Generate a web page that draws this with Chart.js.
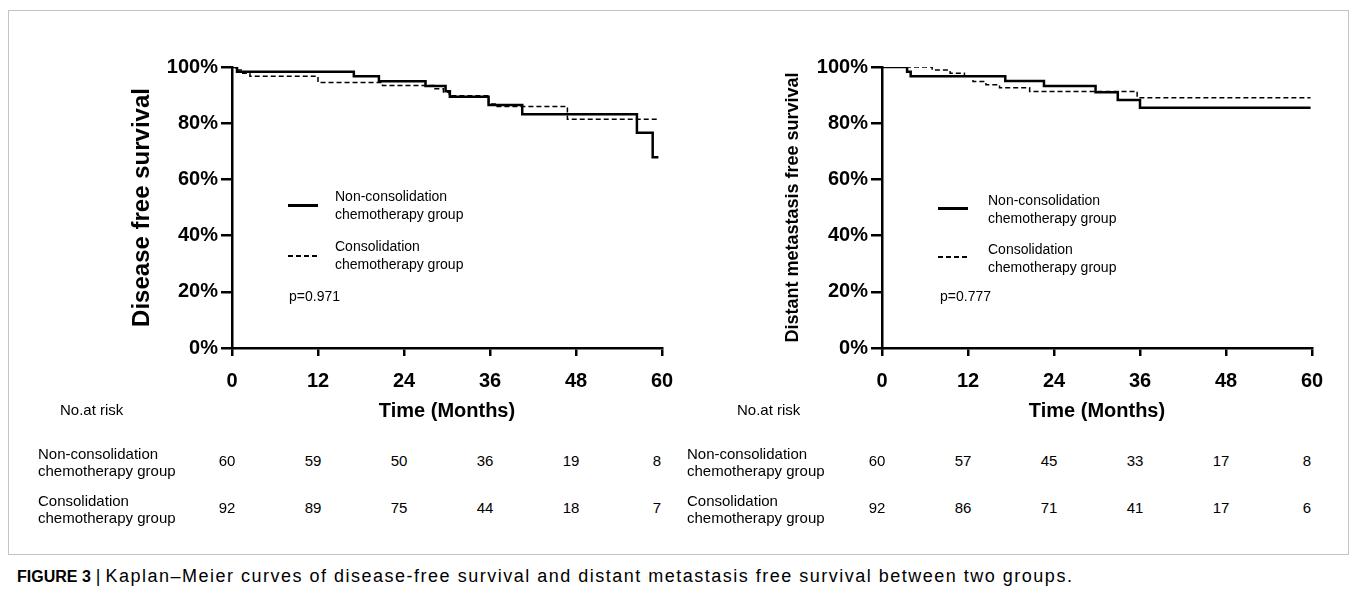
<!DOCTYPE html>
<html>
<head>
<meta charset="utf-8">
<script src="https://cdn.jsdelivr.net/npm/chart.js@4.4.0/dist/chart.umd.min.js"></script>
<style>
  body { margin: 0; background: #fff; width: 1356px; height: 595px; position: relative; overflow: hidden;
         font-family: "Liberation Sans", Arial, sans-serif; color: #000; }
  #frame { position: absolute; left: 8px; top: 10px; width: 1339px; height: 543px; border: 1px solid #c4c4c4; }
  canvas { position: absolute; top: 40px; }
  .txt { position: absolute; font-size: 14px; line-height: 18px; white-space: nowrap; }
  .tb { position: absolute; font-size: 15px; line-height: 17px; white-space: nowrap; }
  .num { position: absolute; font-size: 15px; line-height: 17px; transform: translateX(-50%); }
  .solid { position: absolute; width: 30px; height: 2.5px; background: #000; }
  .dash { position: absolute; width: 30px; height: 1.5px;
          background: repeating-linear-gradient(90deg, #000 0 5px, transparent 5px 8px); }
  #cap { position: absolute; left: 17px; top: 566px; font-size: 18px; line-height: 21px; white-space: nowrap; }
  #cap b { font-size: 16px; }
  #cap span { letter-spacing: 1.5px; }
</style>
</head>
<body>
<div id="frame"></div>

<canvas id="dfsChart" width="590" height="400" style="left:100px"></canvas>
<canvas id="dmfsChart" width="590" height="400" style="left:750px"></canvas>

<!-- legends -->
<div class="solid" style="left:288px;top:204px"></div>
<div class="txt" style="left:335px;top:187px">Non-consolidation<br>chemotherapy group</div>
<div class="dash" style="left:288px;top:255px"></div>
<div class="txt" style="left:335px;top:237px">Consolidation<br>chemotherapy group</div>
<div class="txt" style="left:289px;top:287px">p=0.971</div>

<div class="solid" style="left:938px;top:207px"></div>
<div class="txt" style="left:988px;top:191px">Non-consolidation<br>chemotherapy group</div>
<div class="dash" style="left:938px;top:256px"></div>
<div class="txt" style="left:988px;top:240px">Consolidation<br>chemotherapy group</div>
<div class="txt" style="left:940px;top:287px">p=0.777</div>

<!-- risk tables -->
<div class="tb" style="left:60px;top:401px">No.at risk</div>
<div class="tb" style="left:38px;top:445px">Non-consolidation<br>chemotherapy group</div>
<div class="tb" style="left:38px;top:492px">Consolidation<br>chemotherapy group</div>
<div id="dfsRisk"></div>

<div class="tb" style="left:737px;top:401px">No.at risk</div>
<div class="tb" style="left:687px;top:445px">Non-consolidation<br>chemotherapy group</div>
<div class="tb" style="left:687px;top:492px">Consolidation<br>chemotherapy group</div>
<div id="dmfsRisk"></div>

<div id="cap"><b>FIGURE 3</b> | <span>Kaplan–Meier curves of disease-free survival and distant metastasis free survival between two groups.</span></div>

<script>
// ── Data ──

var MONTH_TICKS = [0, 12, 24, 36, 48, 60];

// Disease free survival (%), step points: time in months, survival after event
var dfsNonT = [0, 0.7, 17, 20.5, 27, 29.8, 30.4, 35.8, 40.5, 56.5, 58.7, 59.5];
var dfsNonS = [100, 98.3, 96.7, 94.9, 93.2, 91.4, 89.4, 86.5, 83.2, 76.6, 67.9, 67.9];
var dfsConT = [0, 0.5, 1.5, 2.5, 12, 21, 28.3, 29.5, 30.3, 35.8, 37, 46.8, 59.5];
var dfsConS = [100, 98.9, 97.8, 96.7, 94.5, 93.4, 92.3, 91.1, 89.8, 86.8, 85.9, 81.4, 81.4];

// Distant metastasis free survival (%)
var dmfsNonT = [0, 3.5, 4.0, 17.2, 22.6, 29.8, 32.9, 36.0, 59.8];
var dmfsNonS = [100, 98.3, 96.7, 95.0, 93.2, 91.0, 88.3, 85.5, 85.5];
var dmfsConT = [0, 7.0, 9.5, 11.5, 12.7, 14.5, 16.4, 20.6, 35.6, 59.8];
var dmfsConS = [100, 98.9, 97.8, 96.7, 94.8, 93.7, 92.6, 91.3, 89.1, 89.1];

// Number at risk at each month tick
var dfsRiskNon = [60, 59, 50, 36, 19, 8];
var dfsRiskCon = [92, 89, 75, 44, 18, 7];
var dmfsRiskNon = [60, 57, 45, 33, 17, 8];
var dmfsRiskCon = [92, 86, 71, 41, 17, 6];

var FONT = "'Liberation Sans', Arial, sans-serif";

function points(ts, ss) {
  return ts.map(function (t, i) { return { x: t, y: ss[i] }; });
}

// ── Chart ──

function kmChart(id, yTitle, titleSize, titlePad, nonT, nonS, conT, conS) {
  var ctx = document.getElementById(id).getContext("2d");
  return new Chart(ctx, {
    type: "line",
    data: {
      datasets: [{
        data: points(nonT, nonS),
        borderColor: "#000",
        borderWidth: 2.5,
        stepped: true,
        pointRadius: 0,
        fill: false,
      }, {
        data: points(conT, conS),
        borderColor: "#000",
        borderWidth: 1.5,
        borderDash: [5, 3],
        stepped: true,
        pointRadius: 0,
        fill: false,
      }],
    },
    options: {
      responsive: false,
      animation: false,
      events: [],
      layout: { padding: { top: 27, right: 28, left: 0, bottom: 0 } },
      plugins: { legend: { display: false }, tooltip: { enabled: false } },
      scales: {
        x: {
          type: "linear",
          min: 0,
          max: 60,
          afterFit: function (s) { s.height = 92; },
          ticks: { stepSize: 12, padding: 13, color: "#000", font: { family: FONT, size: 20, weight: "bold" } },
          grid: { drawOnChartArea: false, color: "#000", lineWidth: 2.5, tickLength: 8 },
          border: { color: "#000", width: 2.5 },
          title: {
            display: true,
            text: "Time (Months)",
            color: "#000",
            padding: { top: 0, bottom: 17 },
            font: { family: FONT, size: 20, weight: "bold" },
          },
        },
        y: {
          min: 0,
          max: 100,
          afterFit: function (s) { s.width = 132; },
          ticks: {
            stepSize: 20,
            padding: 3,
            color: "#000",
            font: { family: FONT, size: 20, weight: "bold" },
            callback: function (v) { return v + "%"; },
          },
          grid: { drawOnChartArea: false, color: "#000", lineWidth: 2.5, tickLength: 11 },
          border: { color: "#000", width: 2.5 },
          title: {
            display: true,
            text: yTitle,
            color: "#000",
            padding: { top: titlePad, bottom: 0 },
            font: { family: FONT, size: titleSize, weight: "bold" },
          },
        },
      },
    },
  });
}

// risk numbers placed under the chart's own month ticks
function riskTable(chart, canvasLeft, holderId, rows, tops) {
  var holder = document.getElementById(holderId);
  rows.forEach(function (row, r) {
    row.forEach(function (n, i) {
      var d = document.createElement("div");
      d.className = "num";
      d.textContent = n;
      d.style.left = (canvasLeft + chart.scales.x.getPixelForValue(MONTH_TICKS[i]) - 5) + "px";
      d.style.top = tops[r] + "px";
      holder.appendChild(d);
    });
  });
}

var dfs = kmChart("dfsChart", "Disease free survival", 24, 28, dfsNonT, dfsNonS, dfsConT, dfsConS);
var dmfs = kmChart("dmfsChart", "Distant metastasis free survival", 18, 32, dmfsNonT, dmfsNonS, dmfsConT, dmfsConS);

riskTable(dfs, 100, "dfsRisk", [dfsRiskNon, dfsRiskCon], [452, 499]);
riskTable(dmfs, 750, "dmfsRisk", [dmfsRiskNon, dmfsRiskCon], [452, 499]);
</script>
</body>
</html>
